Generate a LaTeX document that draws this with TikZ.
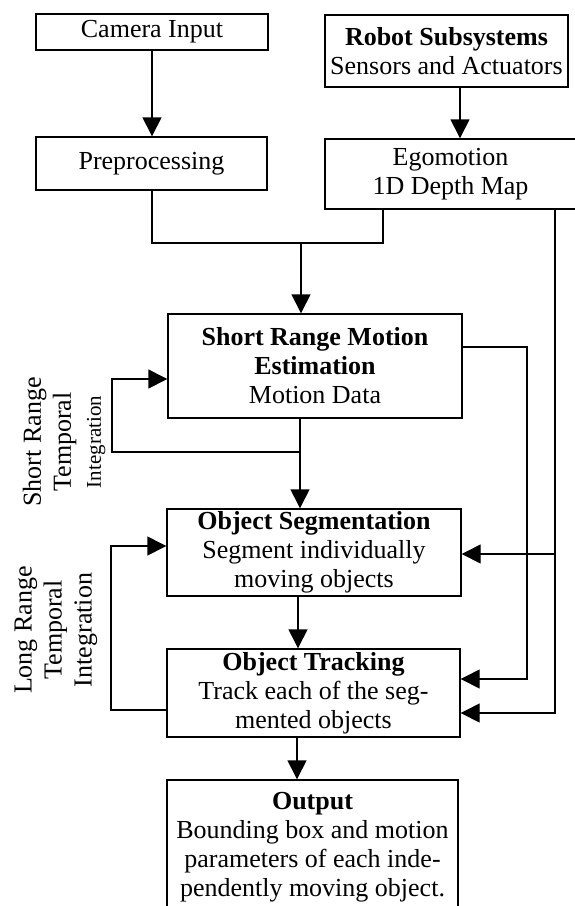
\documentclass[tikz,border=0pt]{standalone}
\usepackage{fontspec}
\setmainfont{Liberation Serif}
\usetikzlibrary{arrows.meta}
\tikzset{
  box/.style={draw, line width=1.4pt, align=center, inner sep=0pt,
    font=\fontsize{26}{29}\selectfont},
  arr/.style={line width=1.4pt, -{Triangle[length=19pt,width=19pt]}},
  ln/.style={line width=1.4pt},
  lbl/.style={rotate=90, align=center, font=\fontsize{26}{30}\selectfont}
}
\begin{document}
\begin{tikzpicture}[x=1pt,y=-1pt]
\useasboundingbox (0,0) rectangle (574,906);
% boxes
\node[box, minimum width=232pt, minimum height=36pt] (cam) at (152,32) {Camera Input};
\node[box, minimum width=243pt, minimum height=72pt] (robot) at (446.5,51) {\textbf{Robot Subsystems}\\Sensors and Actuators};
\node[box, minimum width=231pt, minimum height=53pt] (pre) at (151.5,163.5) {Preprocessing};
\node[box, minimum width=251pt, minimum height=70pt] (ego) at (450.5,174) {Egomotion\\1D Depth Map};
\node[box, minimum width=294pt, minimum height=104pt] (srme) at (315,366) {\textbf{Short Range Motion}\\\textbf{Estimation}\\Motion Data};
\node[box, minimum width=294pt, minimum height=87pt] (seg) at (314,552.5) {\textbf{Object Segmentation}\\Segment individually\\moving objects};
\node[box, minimum width=293pt, minimum height=88pt] (track) at (313.5,693) {\textbf{Object Tracking}\\Track each of the seg-\\mented objects};
\node[box, minimum width=291pt, minimum height=135pt] (out) at (312.5,847.5) {\textbf{Output}\\Bounding box and motion\\parameters of each inde-\\pendently moving object.};
% side labels
\node[lbl] (shortlbl) at (64,442) {Short Range\\Temporal\\{\fontsize{21}{24}\selectfont Integration}};
\node[lbl] (longlbl) at (56,630) {Long Range\\Temporal\\Integration};
% coordinates
\coordinate (rx) at (460,0);
\coordinate (jl) at (152,243);
\coordinate (jr) at (383,243);
\coordinate (jm) at (301,243);
\coordinate (cA) at (300,0);
\coordinate (cB) at (298,0);
\coordinate (cC) at (297,0);
\coordinate (sl) at (300,452);
\coordinate (sl1) at (112,452);
\coordinate (sl2) at (112,379);
\coordinate (ll1) at (111,710);
\coordinate (ll2) at (111,546);
\coordinate (r1m) at (555,554);
\coordinate (r1b) at (555,713);
\coordinate (r2a) at (527,347);
\coordinate (r2b) at (527,679);
% connectors
\draw[arr] (cam.south) -- (cam.south |- pre.north);
\draw[arr] (robot.south -| rx) -- (ego.north -| rx);
\draw[ln] (pre.south -| jl) -- (jl) -- (jr) -- (ego.south -| jr);
\draw[arr] (jm) -- (srme.north -| jm);
\draw[arr] (srme.south -| cA) -- (seg.north -| cA);
\draw[arr] (sl) -- (sl1) -- (sl2) -- (sl2 -| srme.west);
\draw[arr] (seg.south -| cB) -- (track.north -| cB);
\draw[arr] (track.west |- ll1) -- (ll1) -- (ll2) -- (ll2 -| seg.west);
\draw[arr] (track.south -| cC) -- (out.north -| cC);
\draw[arr] (ego.south -| r1b) -- (r1b) -- (r1b -| track.east);
\draw[arr] (r1m) -- (r1m -| seg.east);
\draw[arr] (srme.east |- r2a) -- (r2a) -- (r2b) -- (r2b -| track.east);
\end{tikzpicture}
\end{document}
